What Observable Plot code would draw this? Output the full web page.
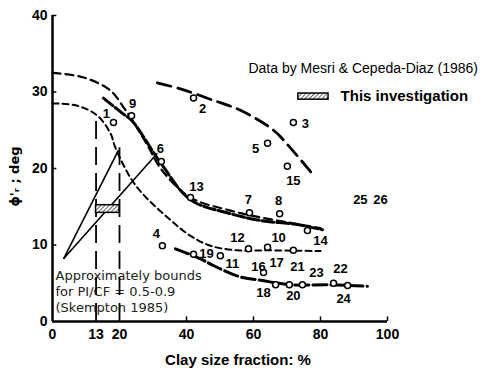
<!DOCTYPE html>
<html><head><meta charset="utf-8">
<script src="https://cdn.jsdelivr.net/npm/d3@7"></script>
<script src="https://cdn.jsdelivr.net/npm/@observablehq/plot@0.6"></script>
<style>body{margin:0;background:#fff} svg{display:block}</style>
</head><body><div id="chart"></div>
<script>
// Axis ticks
const xTicks = [0, 13, 20, 40, 60, 80, 100];
const yTicks = [0, 10, 20, 30, 40];
const xTickMarks = [40, 60, 80, 100];
const yTickMarks = [10, 20, 30, 40];

// Data points (circles)
const pointX = [18.2, 23.6, 42.1, 32.5, 41.2, 71.9, 64.2, 70.1, 58.8, 67.8, 76.1, 58.5, 64.2, 71.9, 32.8, 42.1, 50.1, 63.0, 66.6, 70.7, 74.6, 83.9, 88.1];
const pointY = [26.0, 26.9, 29.2, 20.9, 16.2, 26.0, 23.3, 20.3, 14.2, 14.1, 11.9, 9.5, 9.7, 9.3, 9.9, 8.8, 8.6, 6.4, 4.8, 4.8, 4.8, 5.0, 4.7];

// Point number labels
const labelText = ["1", "9", "2", "6", "13", "3", "5", "15", "7", "8", "10", "14", "12", "4", "19", "11", "16", "17", "21", "23", "22", "18", "20", "24", "25", "26"];
const labelX = [16.1, 23.9, 44.8, 32.2, 43.0, 75.5, 60.6, 71.9, 58.5, 67.5, 67.5, 80.0, 55.2, 31.0, 46.0, 53.7, 61.5, 66.9, 73.1, 78.8, 86.0, 63.0, 71.9, 86.9, 91.9, 97.9];
const labelY = [27.2, 28.4, 27.8, 22.6, 17.6, 25.9, 22.6, 18.4, 15.9, 15.8, 11.0, 10.6, 11.0, 11.5, 8.8, 7.6, 7.2, 7.7, 7.2, 6.4, 6.9, 3.8, 3.4, 3.0, 15.9, 15.9];

// Trend curves
const curve1X = [0, 9.3, 17.3, 21.2, 23.6, 28, 32.8, 41.2, 53.1, 62.1, 71, 80];
const curve1Y = [32.5, 31.9, 30.2, 28.0, 26.5, 23.3, 19.7, 16.2, 14.5, 13.6, 12.9, 12.2];
const curve2X = [15.2, 20.9, 23.6, 32.8, 41.2, 53.1, 62.1, 72.5, 80.6];
const curve2Y = [29.2, 27.2, 26.3, 20.4, 15.9, 14.1, 13.2, 12.7, 12.0];
const curve3X = [0, 7.5, 13.4, 17.3, 18.8, 24.8, 34.6, 41.2, 47.2, 55.2, 65, 80];
const curve3Y = [28.5, 28.2, 26.9, 24.6, 22.7, 17.8, 13.5, 11.2, 9.9, 9.3, 9.3, 9.2];
const curve4X = [36.7, 44.2, 47.2, 55.5, 62.1, 71, 83, 94];
const curve4Y = [9.5, 8.2, 7.5, 5.9, 5.4, 4.8, 4.8, 4.6];
const curve5X = [31.3, 38.2, 48.1, 56.1, 66, 71, 77.6];
const curve5Y = [31.2, 30.4, 28.9, 27.6, 25.0, 22.7, 19.3];

// Skempton bounds
const boundX = [13, 20];
const boundTop = [26.7, 22.7];
const skemptonX1 = [3.3, 3.3];
const skemptonY1 = [8.2, 8.2];
const skemptonX2 = [19.7, 31.3];
const skemptonY2 = [22.4, 22.0];

// This investigation (hatched box)
const investigationX = [13, 20];
const investigationY = [14.2, 15.2];

const toPts = (xs, ys) => xs.map((x, i) => ({x, y: ys[i]}));
const points = toPts(pointX, pointY);
const labels = labelText.map((t, i) => ({t, x: labelX[i], y: labelY[i]}));
const bounds = boundX.map((x, i) => ({x, top: boundTop[i]}));
const skempton = skemptonX1.map((x1, i) => ({x1, y1: skemptonY1[i], x2: skemptonX2[i], y2: skemptonY2[i]}));

const lineStyle = (w, dash) => ({x: "x", y: "y", curve: "catmull-rom", stroke: "black", strokeWidth: w, strokeDasharray: dash});

const svg = Plot.plot({
  width: 481,
  height: 372,
  marginLeft: 52,
  marginRight: 94,
  marginTop: 15,
  marginBottom: 51,
  x: {domain: [0, 100]},
  y: {domain: [0, 40]},
  style: {fontFamily: "'Liberation Sans', Arial, sans-serif", fontSize: "14px", fontWeight: "bold", background: "white", color: "black"},
  marks: [
    Plot.text(["Approximately bounds\nfor PI/CF = 0.5-0.9\n(Skempton 1985)"], {x: 0.9, y: 4.0, textAnchor: "start", lineAnchor: "middle", lineHeight: 1.23, fontFamily: "'DejaVu Sans', sans-serif", fontSize: 13, fontWeight: "normal", fill: "#222"}),
    Plot.ruleX(bounds, {x: "x", y1: 0, y2: "top", stroke: "black", strokeWidth: 1.8, strokeDasharray: "18,8"}),
    Plot.link(skempton, {x1: "x1", y1: "y1", x2: "x2", y2: "y2", stroke: "black", strokeWidth: 1.6}),
    Plot.line(toPts(curve1X, curve1Y), lineStyle(2.2, "8,5")),
    Plot.line(toPts(curve2X, curve2Y), lineStyle(3, "12,3")),
    Plot.line(toPts(curve3X, curve3Y), lineStyle(2, "6,4")),
    Plot.line(toPts(curve4X, curve4Y), lineStyle(3, "14,4")),
    Plot.line(toPts(curve5X, curve5Y), lineStyle(2.8, "14,7")),
    Plot.rect([0], {x1: investigationX[0], x2: investigationX[1], y1: investigationY[0], y2: investigationY[1], fill: "url(#hatch)", stroke: "black", strokeWidth: 1.5}),
    Plot.dot(points, {x: "x", y: "y", r: 3, fill: "white", stroke: "black", strokeWidth: 1.5}),
    Plot.text(labels, {x: "x", y: "y", text: "t", fontSize: 13}),
    // axes
    Plot.ruleX([0], {stroke: "black", strokeWidth: 2.5}),
    Plot.ruleY([0], {stroke: "black", strokeWidth: 2.5}),
    Plot.ruleY(yTickMarks, {x1: 0, x2: 1.3, stroke: "black", strokeWidth: 1.5}),
    Plot.ruleX(xTickMarks, {y1: 0, y2: 0.6, stroke: "black", strokeWidth: 1.5}),
    Plot.axisX({ticks: xTicks, tickSize: 0, tickPadding: 8, label: null, tickFormat: d => String(d)}),
    Plot.axisY({ticks: yTicks, tickSize: 0, tickPadding: 5, label: null, tickFormat: d => String(d)}),
    Plot.text(["Clay size fraction: %"], {frameAnchor: "bottom", dx: 18, dy: 39, lineAnchor: "middle", textAnchor: "middle", fontSize: 15}),
    Plot.text(["ϕ'ᵣ ; deg"], {frameAnchor: "left", rotate: -90, dx: -38, dy: 8, lineAnchor: "middle", textAnchor: "middle", fontSize: 13, fontFamily: "'DejaVu Sans', sans-serif"}),
    // legend / annotations
    Plot.text(["Data by Mesri & Cepeda-Diaz (1986)"], {x: 58.5, y: 33.1, textAnchor: "start", fontWeight: "normal", fontSize: 14}),
    Plot.rect([0], {x1: 73.4, x2: 82.4, y1: 29.0, y2: 29.8, fill: "url(#hatch)", stroke: "black", strokeWidth: 1.5}),
    Plot.text(["This investigation"], {x: 86, y: 29.4, textAnchor: "start", fontSize: 15})
  ]
});

const defs = d3.select(svg).insert("defs", ":first-child");
const pat = defs.append("pattern").attr("id", "hatch").attr("patternUnits", "userSpaceOnUse")
  .attr("width", 3).attr("height", 3).attr("patternTransform", "rotate(45)");
pat.append("rect").attr("width", 3).attr("height", 3).attr("fill", "white");
pat.append("line").attr("x1", 0).attr("y1", 0).attr("x2", 0).attr("y2", 3).attr("stroke", "black").attr("stroke-width", 1.2);

document.getElementById("chart").appendChild(svg);
</script>
</body></html>
